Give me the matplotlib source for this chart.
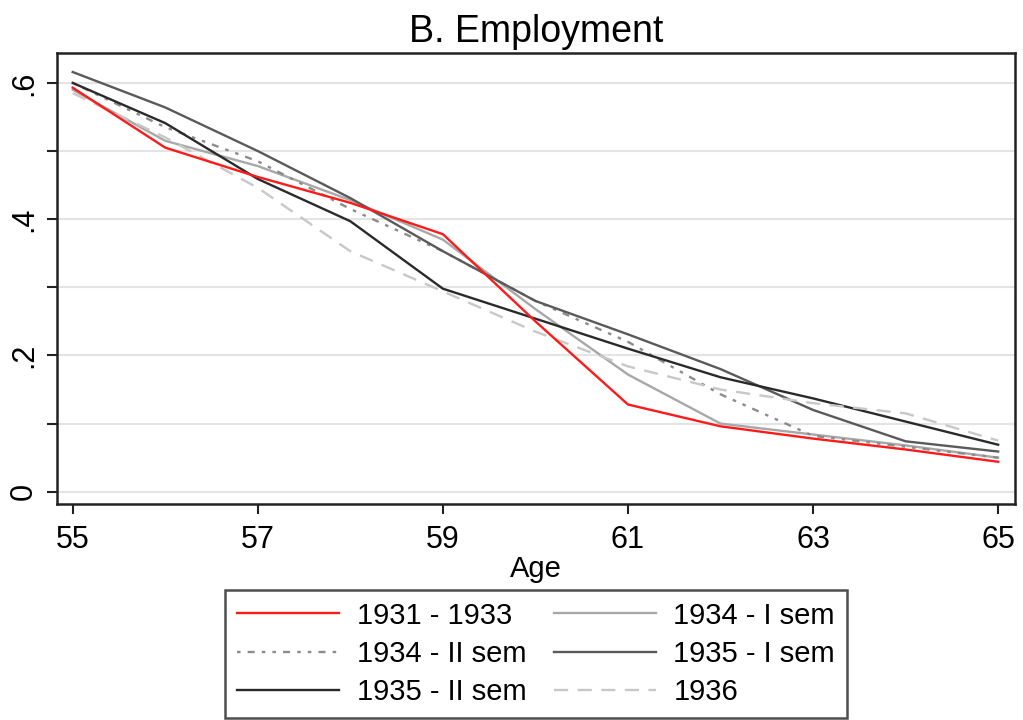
import matplotlib
matplotlib.use('Agg')
import matplotlib.pyplot as plt

plt.rcParams['font.family'] = ['Liberation Sans', 'DejaVu Sans']

age = [55, 56, 57, 58, 59, 60, 61, 62, 63, 64, 65]

emp_1931_33 = [0.593, 0.505, 0.462, 0.424, 0.378, 0.250, 0.128, 0.096, 0.078, 0.062, 0.044]
emp_1934_1 = [0.590, 0.515, 0.478, 0.428, 0.370, 0.268, 0.172, 0.100, 0.084, 0.068, 0.050]
emp_1934_2 = [0.600, 0.535, 0.485, 0.415, 0.353, 0.280, 0.220, 0.143, 0.082, 0.066, 0.050]
emp_1935_1 = [0.616, 0.564, 0.500, 0.431, 0.353, 0.280, 0.231, 0.180, 0.120, 0.074, 0.059]
emp_1935_2 = [0.600, 0.541, 0.459, 0.397, 0.298, 0.254, 0.210, 0.168, 0.137, 0.103, 0.069]
emp_1936 = [0.585, 0.520, 0.446, 0.353, 0.294, 0.235, 0.184, 0.150, 0.130, 0.115, 0.075]

fig = plt.figure(figsize=(10.23, 7.2), dpi=100)
ax = fig.add_axes([0.0557, 0.30, 0.9363, 0.626])

# grid first so lines sit on top
for g in [0, 0.1, 0.2, 0.3, 0.4, 0.5, 0.6]:
    ax.axhline(g, color='#e4e4e4', lw=1.5, zorder=0)

lw = 1.7
ax.plot(age, emp_1931_33, color='#ff1a1a', lw=lw, label='1931 - 1933', zorder=5)
ax.plot(age, emp_1934_1, color='#a8a8a8', lw=lw, label='1934 - I sem')
ax.plot(age, emp_1934_2, color='#8c8c8c', lw=lw, dashes=(1.5, 3, 3, 3, 1.5, 3),
        label='1934 - II sem')
ax.plot(age, emp_1935_1, color='#5a5a5a', lw=lw, label='1935 - I sem')
ax.plot(age, emp_1935_2, color='#2a2a2a', lw=lw, label='1935 - II sem')
ax.plot(age, emp_1936, color='#c8c8c8', lw=lw, dashes=(6, 4), label='1936')

ax.set_xlim(54.83, 65.18)
ax.set_ylim(-0.018, 0.6435)

ax.set_xticks([55, 57, 59, 61, 63, 65])
ax.set_yticks([0, 0.1, 0.2, 0.3, 0.4, 0.5, 0.6])
ax.set_yticklabels(['0', '', '.2', '', '.4', '', '.6'], rotation=90, va='center')
ax.tick_params(axis='both', labelsize=22, length=7, width=1.5, color='#222222')
ax.tick_params(axis='y', pad=6)
ax.tick_params(axis='x', pad=8)

for s in ax.spines.values():
    s.set_linewidth(1.8)
    s.set_color('#222222')

ax.set_title('B. Employment', fontsize=27, pad=8)
ax.set_xlabel('Age', fontsize=21, labelpad=0)

# stata fills the key row by row, matplotlib column by column
h, l = ax.get_legend_handles_labels()
order = [0, 2, 4, 1, 3, 5]
leg = fig.legend([h[i] for i in order], [l[i] for i in order], ncol=2,
                 loc='lower center', bbox_to_anchor=(0.524, -0.017),
                 fontsize=21, frameon=True, fancybox=False,
                 edgecolor='#222222', handlelength=3.5, columnspacing=0.95,
                 handletextpad=0.6, labelspacing=0.35, borderpad=0.4)
leg.get_frame().set_linewidth(1.8)

fig.savefig('out.png', dpi=100)
